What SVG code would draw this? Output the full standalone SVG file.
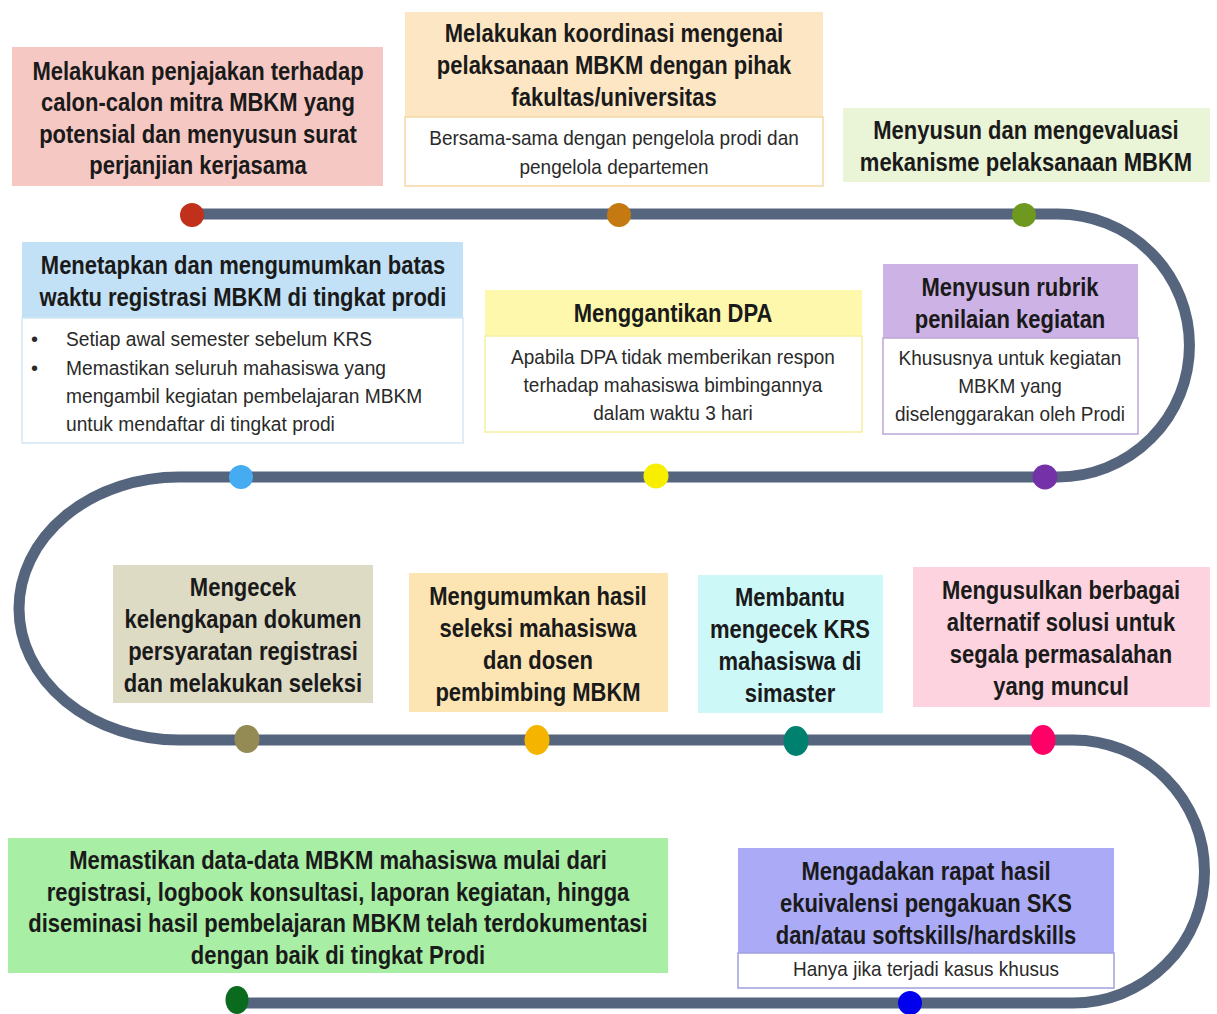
<svg xmlns="http://www.w3.org/2000/svg" width="1217" height="1014" viewBox="0 0 1217 1014">
<style>
.t{font-family:"Liberation Sans",Arial,sans-serif;font-weight:bold;font-size:25px;fill:#1a1a1a;text-anchor:middle}
.s{font-family:"Liberation Sans",Arial,sans-serif;font-size:20px;fill:#2a2a2a;text-anchor:middle}
.sl{font-family:"Liberation Sans",Arial,sans-serif;font-size:20px;fill:#2a2a2a;text-anchor:start}
.sub{fill:#ffffff;stroke-width:1.5}
.track{fill:none;stroke:#56657e;stroke-width:11}
</style>
<rect width="1217" height="1014" fill="#ffffff"/>
<g id="connectors">
<path class="track" d="M192 214 H1058 A131.5 131.5 0 0 1 1058 477 H179 A160 131.5 0 0 0 179 740 H1073 A131.5 131.5 0 0 1 1073 1003 H237"/>
</g>
<g id="node1">
<rect x="12" y="47" width="371" height="139" fill="#f5c8c3"/>
<g transform="translate(198 0) scale(0.88 1)">
<text class="t" x="0" y="80">Melakukan penjajakan terhadap</text>
<text class="t" x="0" y="111">calon-calon mitra MBKM yang</text>
<text class="t" x="0" y="143">potensial dan menyusun surat</text>
<text class="t" x="0" y="174">perjanjian kerjasama</text>
</g>
<circle cx="192" cy="215" r="12" fill="#c0301a"/>
</g>
<g id="node2">
<rect x="405" y="12" width="418" height="105" fill="#fde6c4"/>
<rect class="sub" x="405" y="117" width="418" height="69" stroke="#f3d7a4"/>
<g transform="translate(614 0) scale(0.88 1)">
<text class="t" x="0" y="42">Melakukan koordinasi mengenai</text>
<text class="t" x="0" y="74">pelaksanaan MBKM dengan pihak</text>
<text class="t" x="0" y="106">fakultas/universitas</text>
</g>
<g transform="translate(614 0) scale(0.95 1)">
<text class="s" x="0" y="145">Bersama-sama dengan pengelola prodi dan</text>
<text class="s" x="0" y="174">pengelola departemen</text>
</g>
<circle cx="619" cy="215" r="12" fill="#c47a10"/>
</g>
<g id="node3">
<rect x="843" y="108" width="367" height="74" fill="#eaf4d6"/>
<g transform="translate(1026 0) scale(0.88 1)">
<text class="t" x="0" y="139">Menyusun dan mengevaluasi</text>
<text class="t" x="0" y="171">mekanisme pelaksanaan MBKM</text>
</g>
<circle cx="1024" cy="215" r="12" fill="#6e981e"/>
</g>
<g id="node4">
<rect x="22" y="242" width="441" height="76" fill="#c2e1f6"/>
<rect class="sub" x="22" y="318" width="441" height="125" stroke="#d2e6f4"/>
<g transform="translate(243 0) scale(0.88 1)">
<text class="t" x="0" y="274">Menetapkan dan mengumumkan batas</text>
<text class="t" x="0" y="306">waktu registrasi MBKM di tingkat prodi</text>
</g>
<text class="sl" x="31" y="346">•</text>
<text class="sl" x="31" y="375">•</text>
<g transform="translate(66 0) scale(0.96 1)">
<text class="sl" x="0" y="346">Setiap awal semester sebelum KRS</text>
<text class="sl" x="0" y="375">Memastikan seluruh mahasiswa yang</text>
<text class="sl" x="0" y="403">mengambil kegiatan pembelajaran MBKM</text>
<text class="sl" x="0" y="431">untuk mendaftar di tingkat prodi</text>
</g>
<circle cx="241" cy="477" r="12" fill="#45acf2"/>
</g>
<g id="node5">
<rect x="485" y="290" width="377" height="46" fill="#fef8ad"/>
<rect class="sub" x="485" y="336" width="377" height="96" stroke="#f6efa0"/>
<g transform="translate(673 0) scale(0.88 1)">
<text class="t" x="0" y="322">Menggantikan DPA</text>
</g>
<g transform="translate(673 0) scale(0.95 1)">
<text class="s" x="0" y="364">Apabila DPA tidak memberikan respon</text>
<text class="s" x="0" y="392">terhadap mahasiswa bimbingannya</text>
<text class="s" x="0" y="420">dalam waktu 3 hari</text>
</g>
<circle cx="656" cy="476" r="12.5" fill="#f8ee00"/>
</g>
<g id="node6">
<rect x="883" y="264" width="255" height="74" fill="#cdb2e6"/>
<rect class="sub" x="883" y="338" width="255" height="96" stroke="#bda5d6"/>
<g transform="translate(1010 0) scale(0.88 1)">
<text class="t" x="0" y="296">Menyusun rubrik</text>
<text class="t" x="0" y="328">penilaian kegiatan</text>
</g>
<g transform="translate(1010 0) scale(0.95 1)">
<text class="s" x="0" y="365">Khususnya untuk kegiatan</text>
<text class="s" x="0" y="393">MBKM yang</text>
<text class="s" x="0" y="421">diselenggarakan oleh Prodi</text>
</g>
<circle cx="1045" cy="477" r="12.5" fill="#7431a8"/>
</g>
<g id="node7">
<rect x="113" y="565" width="260" height="138" fill="#dedbc5"/>
<g transform="translate(243 0) scale(0.88 1)">
<text class="t" x="0" y="596">Mengecek</text>
<text class="t" x="0" y="628">kelengkapan dokumen</text>
<text class="t" x="0" y="660">persyaratan registrasi</text>
<text class="t" x="0" y="692">dan melakukan seleksi</text>
</g>
<ellipse cx="247" cy="739" rx="12.5" ry="14" fill="#948a54"/>
</g>
<g id="node8">
<rect x="409" y="573" width="259" height="139" fill="#fce5b3"/>
<g transform="translate(538 0) scale(0.88 1)">
<text class="t" x="0" y="605">Mengumumkan hasil</text>
<text class="t" x="0" y="637">seleksi mahasiswa</text>
<text class="t" x="0" y="669">dan dosen</text>
<text class="t" x="0" y="701">pembimbing MBKM</text>
</g>
<ellipse cx="537" cy="740" rx="12.5" ry="15" fill="#f4b400"/>
</g>
<g id="node9">
<rect x="698" y="575" width="185" height="138" fill="#ccf8f8"/>
<g transform="translate(790 0) scale(0.88 1)">
<text class="t" x="0" y="606">Membantu</text>
<text class="t" x="0" y="638">mengecek KRS</text>
<text class="t" x="0" y="670">mahasiswa di</text>
<text class="t" x="0" y="702">simaster</text>
</g>
<ellipse cx="796" cy="741" rx="12.5" ry="15" fill="#00806e"/>
</g>
<g id="node10">
<rect x="913" y="567" width="297" height="140" fill="#fcd3de"/>
<g transform="translate(1061 0) scale(0.88 1)">
<text class="t" x="0" y="599">Mengusulkan berbagai</text>
<text class="t" x="0" y="631">alternatif solusi untuk</text>
<text class="t" x="0" y="663">segala permasalahan</text>
<text class="t" x="0" y="695">yang muncul</text>
</g>
<ellipse cx="1043" cy="740" rx="12.5" ry="15" fill="#ff0066"/>
</g>
<g id="node11">
<rect x="8" y="838" width="660" height="135" fill="#a8eea4"/>
<g transform="translate(338 0) scale(0.88 1)">
<text class="t" x="0" y="869">Memastikan data-data MBKM mahasiswa mulai dari</text>
<text class="t" x="0" y="901">registrasi, logbook konsultasi, laporan kegiatan, hingga</text>
<text class="t" x="0" y="932">diseminasi hasil pembelajaran MBKM telah terdokumentasi</text>
<text class="t" x="0" y="964">dengan baik di tingkat Prodi</text>
</g>
<ellipse cx="237" cy="1000" rx="11.5" ry="14" fill="#0a6a1e"/>
</g>
<g id="node12">
<rect x="738" y="848" width="376" height="105" fill="#aaaaf7"/>
<rect class="sub" x="738" y="953" width="376" height="35" stroke="#a0a0e0"/>
<g transform="translate(926 0) scale(0.88 1)">
<text class="t" x="0" y="880">Mengadakan rapat hasil</text>
<text class="t" x="0" y="912">ekuivalensi pengakuan SKS</text>
<text class="t" x="0" y="944">dan/atau softskills/hardskills</text>
</g>
<g transform="translate(926 0) scale(0.95 1)">
<text class="s" x="0" y="976">Hanya jika terjadi kasus khusus</text>
</g>
<circle cx="910" cy="1003" r="12" fill="#0000ee"/>
</g>
</svg>
